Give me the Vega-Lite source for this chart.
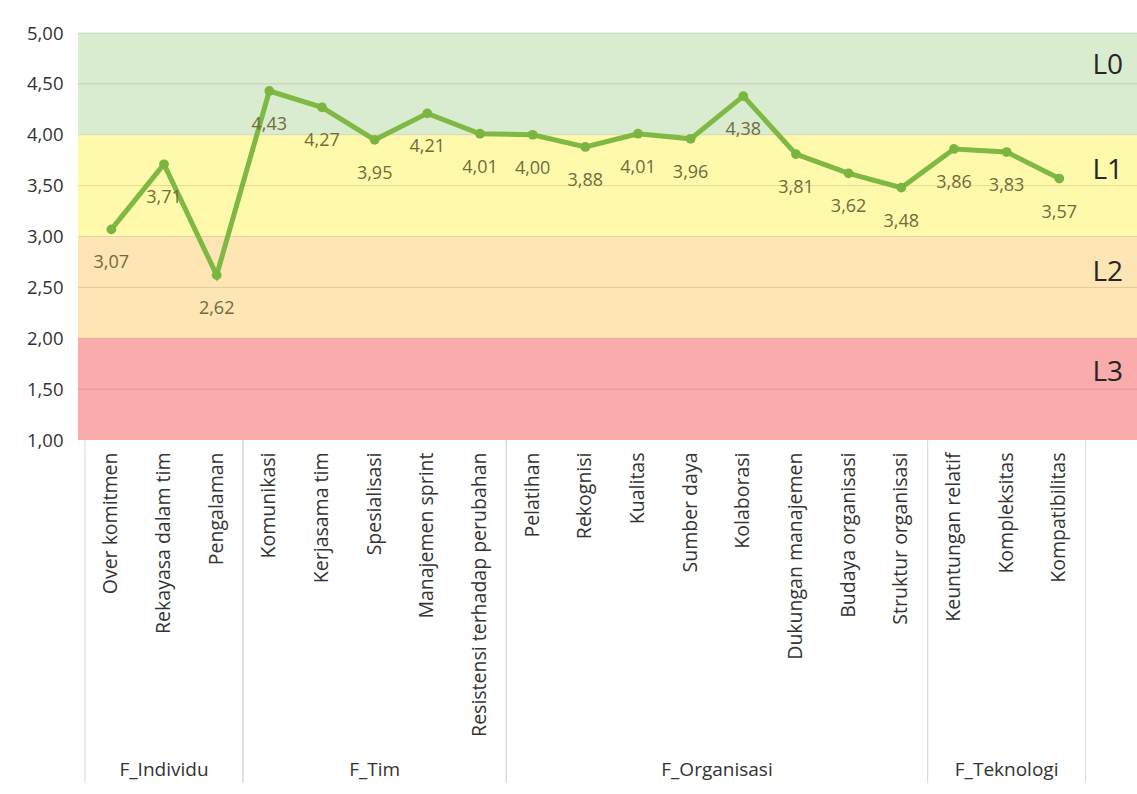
{
  "$schema": "https://vega.github.io/schema/vega-lite/v6.json",
  "autosize": "none",
  "width": 1059,
  "height": 407,
  "padding": {"left": 78, "top": 33, "right": 0, "bottom": 354},
  "background": "white",
  "config": {
    "locale": {"number": {"decimal": ",", "thousands": ".", "grouping": [3], "currency": ["", ""]}},
    "view": {"stroke": null},
    "font": "Open Sans",
    "axisY": {"labelFontSize": 18.5, "labelColor": "#333333", "labelFont": "Open Sans", "domain": false, "ticks": false, "grid": false, "labelPadding": 15},
    "axisX": {"labelFontSize": 19.5, "labelColor": "#333333", "labelFont": "Open Sans", "domain": false, "ticks": false, "grid": false, "labelPadding": 12, "labelAngle": -90, "labelLimit": 400}
  },
  "datasets": {
    "scores": [
      {"cat": "Over komitmen", "group": "F_Individu", "value": 3.07},
      {"cat": "Rekayasa dalam tim", "group": "F_Individu", "value": 3.71},
      {"cat": "Pengalaman", "group": "F_Individu", "value": 2.62},
      {"cat": "Komunikasi", "group": "F_Tim", "value": 4.43},
      {"cat": "Kerjasama tim", "group": "F_Tim", "value": 4.27},
      {"cat": "Spesialisasi", "group": "F_Tim", "value": 3.95},
      {"cat": "Manajemen sprint", "group": "F_Tim", "value": 4.21},
      {"cat": "Resistensi terhadap perubahan", "group": "F_Tim", "value": 4.01},
      {"cat": "Pelatihan", "group": "F_Organisasi", "value": 4.00},
      {"cat": "Rekognisi", "group": "F_Organisasi", "value": 3.88},
      {"cat": "Kualitas", "group": "F_Organisasi", "value": 4.01},
      {"cat": "Sumber daya", "group": "F_Organisasi", "value": 3.96},
      {"cat": "Kolaborasi", "group": "F_Organisasi", "value": 4.38},
      {"cat": "Dukungan manajemen", "group": "F_Organisasi", "value": 3.81},
      {"cat": "Budaya organisasi", "group": "F_Organisasi", "value": 3.62},
      {"cat": "Struktur organisasi", "group": "F_Organisasi", "value": 3.48},
      {"cat": "Keuntungan relatif", "group": "F_Teknologi", "value": 3.86},
      {"cat": "Kompleksitas", "group": "F_Teknologi", "value": 3.83},
      {"cat": "Kompatibilitas", "group": "F_Teknologi", "value": 3.57}
    ],
    "bands": [
      {"level": "L0", "lo": 4, "hi": 5, "mid": 4.5, "ly": 4.68},
      {"level": "L1", "lo": 3, "hi": 4, "mid": 3.5, "ly": 3.64},
      {"level": "L2", "lo": 2, "hi": 3, "mid": 2.5, "ly": 2.64},
      {"level": "L3", "lo": 1, "hi": 2, "mid": 1.5, "ly": 1.66}
    ],
    "groups": [
      {"group": "F_Individu", "first": "Over komitmen", "last": "Pengalaman", "center": "Rekayasa dalam tim", "size": 3},
      {"group": "F_Tim", "first": "Komunikasi", "last": "Resistensi terhadap perubahan", "center": "Spesialisasi", "size": 5},
      {"group": "F_Organisasi", "first": "Pelatihan", "last": "Struktur organisasi", "center": "Sumber daya", "size": 8},
      {"group": "F_Teknologi", "first": "Keuntungan relatif", "last": "Kompatibilitas", "center": "Kompleksitas", "size": 3}
    ]
  },
  "layer": [
    {
      "data": {"name": "bands"},
      "mark": {"type": "rect"},
      "encoding": {
        "y": {"field": "lo", "type": "quantitative", "title": null, "scale": {"domain": [1, 5], "nice": false, "zero": false}, "axis": {"values": [1, 1.5, 2, 2.5, 3, 3.5, 4, 4.5, 5], "format": ".2f", "title": null}},
        "y2": {"field": "hi"},
        "color": {"field": "level", "type": "nominal", "legend": null, "scale": {"domain": ["L0", "L1", "L2", "L3"], "range": ["#daecd0", "#fffaab", "#fde5b4", "#faabab"]}}
      }
    },
    {
      "data": {"name": "bands"},
      "mark": {"type": "rule", "color": "#000000", "opacity": 0.12, "strokeWidth": 1},
      "encoding": {
        "y": {"field": "mid", "type": "quantitative", "title": null}
      }
    },
    {
      "data": {"name": "bands"},
      "mark": {"type": "rule", "color": "#000000", "opacity": 0.12, "strokeWidth": 1},
      "encoding": {
        "y": {"field": "hi", "type": "quantitative", "title": null}
      }
    },
    {
      "data": {"name": "bands"},
      "mark": {"type": "text", "fontSize": 28, "font": "Open Sans", "color": "#262626", "align": "right", "baseline": "middle", "dx": -14},
      "encoding": {
        "x": {"value": "width"},
        "y": {"field": "ly", "type": "quantitative", "title": null},
        "text": {"field": "level"}
      }
    },
    {
      "data": {"name": "groups"},
      "mark": {"type": "rule", "color": "#d9d9d9", "strokeWidth": 1},
      "encoding": {
        "x": {"field": "first", "type": "nominal", "bandPosition": 0, "title": null, "scale": {"type": "band", "domain": ["Over komitmen", "Rekayasa dalam tim", "Pengalaman", "Komunikasi", "Kerjasama tim", "Spesialisasi", "Manajemen sprint", "Resistensi terhadap perubahan", "Pelatihan", "Rekognisi", "Kualitas", "Sumber daya", "Kolaborasi", "Dukungan manajemen", "Budaya organisasi", "Struktur organisasi", "Keuntungan relatif", "Kompleksitas", "Kompatibilitas"], "paddingInner": 0, "paddingOuter": 0.5545, "align": 0.12}},
        "y": {"datum": 1},
        "y2": {"datum": -2.37}
      }
    },
    {
      "data": {"name": "groups"},
      "mark": {"type": "rule", "color": "#d9d9d9", "strokeWidth": 1},
      "encoding": {
        "x": {"field": "last", "type": "nominal", "bandPosition": 1, "title": null, "scale": {"type": "band", "domain": ["Over komitmen", "Rekayasa dalam tim", "Pengalaman", "Komunikasi", "Kerjasama tim", "Spesialisasi", "Manajemen sprint", "Resistensi terhadap perubahan", "Pelatihan", "Rekognisi", "Kualitas", "Sumber daya", "Kolaborasi", "Dukungan manajemen", "Budaya organisasi", "Struktur organisasi", "Keuntungan relatif", "Kompleksitas", "Kompatibilitas"], "paddingInner": 0, "paddingOuter": 0.5545, "align": 0.12}},
        "y": {"datum": 1},
        "y2": {"datum": -2.37}
      }
    },
    {
      "data": {"name": "groups"},
      "transform": [{"filter": "datum.size % 2 == 1"}],
      "mark": {"type": "text", "fontSize": 19, "font": "Open Sans", "color": "#333333", "baseline": "middle", "align": "center"},
      "encoding": {
        "x": {"field": "center", "type": "nominal", "bandPosition": 0.5, "title": null, "scale": {"type": "band", "domain": ["Over komitmen", "Rekayasa dalam tim", "Pengalaman", "Komunikasi", "Kerjasama tim", "Spesialisasi", "Manajemen sprint", "Resistensi terhadap perubahan", "Pelatihan", "Rekognisi", "Kualitas", "Sumber daya", "Kolaborasi", "Dukungan manajemen", "Budaya organisasi", "Struktur organisasi", "Keuntungan relatif", "Kompleksitas", "Kompatibilitas"], "paddingInner": 0, "paddingOuter": 0.5545, "align": 0.12}},
        "y": {"datum": -2.24},
        "text": {"field": "group"}
      }
    },
    {
      "data": {"name": "groups"},
      "transform": [{"filter": "datum.size % 2 == 0"}],
      "mark": {"type": "text", "fontSize": 19, "font": "Open Sans", "color": "#333333", "baseline": "middle", "align": "center"},
      "encoding": {
        "x": {"field": "center", "type": "nominal", "bandPosition": 1, "title": null, "scale": {"type": "band", "domain": ["Over komitmen", "Rekayasa dalam tim", "Pengalaman", "Komunikasi", "Kerjasama tim", "Spesialisasi", "Manajemen sprint", "Resistensi terhadap perubahan", "Pelatihan", "Rekognisi", "Kualitas", "Sumber daya", "Kolaborasi", "Dukungan manajemen", "Budaya organisasi", "Struktur organisasi", "Keuntungan relatif", "Kompleksitas", "Kompatibilitas"], "paddingInner": 0, "paddingOuter": 0.5545, "align": 0.12}},
        "y": {"datum": -2.24},
        "text": {"field": "group"}
      }
    },
    {
      "data": {"name": "scores"},
      "mark": {"type": "line", "color": "#7fb842", "strokeWidth": 5},
      "encoding": {
        "x": {"field": "cat", "type": "nominal", "title": null, "sort": null, "scale": {"type": "band", "domain": ["Over komitmen", "Rekayasa dalam tim", "Pengalaman", "Komunikasi", "Kerjasama tim", "Spesialisasi", "Manajemen sprint", "Resistensi terhadap perubahan", "Pelatihan", "Rekognisi", "Kualitas", "Sumber daya", "Kolaborasi", "Dukungan manajemen", "Budaya organisasi", "Struktur organisasi", "Keuntungan relatif", "Kompleksitas", "Kompatibilitas"], "paddingInner": 0, "paddingOuter": 0.5545, "align": 0.12}, "axis": {"title": null, "labelAngle": -90}},
        "y": {"field": "value", "type": "quantitative", "title": null}
      }
    },
    {
      "data": {"name": "scores"},
      "mark": {"type": "circle", "color": "#7ab53f", "opacity": 1, "size": 95},
      "encoding": {
        "x": {"field": "cat", "type": "nominal", "title": null, "sort": null, "scale": {"type": "band", "domain": ["Over komitmen", "Rekayasa dalam tim", "Pengalaman", "Komunikasi", "Kerjasama tim", "Spesialisasi", "Manajemen sprint", "Resistensi terhadap perubahan", "Pelatihan", "Rekognisi", "Kualitas", "Sumber daya", "Kolaborasi", "Dukungan manajemen", "Budaya organisasi", "Struktur organisasi", "Keuntungan relatif", "Kompleksitas", "Kompatibilitas"], "paddingInner": 0, "paddingOuter": 0.5545, "align": 0.12}},
        "y": {"field": "value", "type": "quantitative", "title": null}
      }
    },
    {
      "data": {"name": "scores"},
      "mark": {"type": "text", "fontSize": 18, "font": "Open Sans", "color": "#6f6c3c", "baseline": "middle", "align": "center", "dy": 34},
      "encoding": {
        "x": {"field": "cat", "type": "nominal", "title": null, "sort": null, "scale": {"type": "band", "domain": ["Over komitmen", "Rekayasa dalam tim", "Pengalaman", "Komunikasi", "Kerjasama tim", "Spesialisasi", "Manajemen sprint", "Resistensi terhadap perubahan", "Pelatihan", "Rekognisi", "Kualitas", "Sumber daya", "Kolaborasi", "Dukungan manajemen", "Budaya organisasi", "Struktur organisasi", "Keuntungan relatif", "Kompleksitas", "Kompatibilitas"], "paddingInner": 0, "paddingOuter": 0.5545, "align": 0.12}},
        "y": {"field": "value", "type": "quantitative", "title": null},
        "text": {"field": "value", "type": "quantitative", "format": ".2f"}
      }
    }
  ]
}
